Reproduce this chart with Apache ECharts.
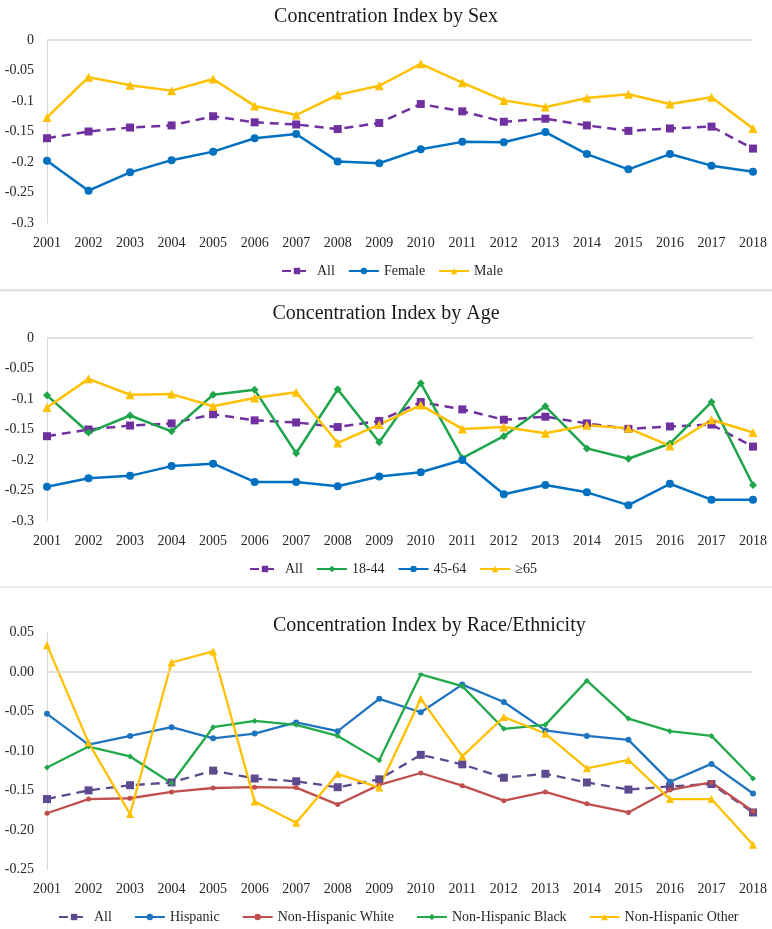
<!DOCTYPE html>
<html>
<head>
<meta charset="utf-8">
<script src="https://cdn.jsdelivr.net/npm/echarts@6/dist/echarts.min.js"></script>
<style>
  html, body { margin: 0; padding: 0; background: #ffffff; }
  #chart { width: 772px; height: 929px; }
</style>
</head>
<body>
<div id="chart"></div>
<script>
// ---------------- data ----------------
const years = ['2001','2002','2003','2004','2005','2006','2007','2008','2009','2010','2011','2012','2013','2014','2015','2016','2017','2018'];

const allValues    = [-0.161,-0.150,-0.1435,-0.140,-0.125,-0.135,-0.1385,-0.146,-0.136,-0.105,-0.117,-0.134,-0.129,-0.140,-0.149,-0.145,-0.142,-0.178];

const femaleValues = [-0.198,-0.247,-0.217,-0.197,-0.183,-0.161,-0.154,-0.199,-0.202,-0.179,-0.167,-0.1675,-0.151,-0.187,-0.212,-0.187,-0.206,-0.216];
const maleValues   = [-0.127,-0.061,-0.074,-0.083,-0.064,-0.108,-0.123,-0.090,-0.075,-0.039,-0.070,-0.099,-0.110,-0.095,-0.089,-0.105,-0.094,-0.145];

const age1844Values = [-0.094,-0.155,-0.127,-0.153,-0.093,-0.085,-0.189,-0.084,-0.171,-0.074,-0.197,-0.161,-0.112,-0.181,-0.198,-0.173,-0.105,-0.241];
const age4564Values = [-0.244,-0.230,-0.226,-0.210,-0.206,-0.236,-0.236,-0.243,-0.227,-0.220,-0.200,-0.256,-0.241,-0.253,-0.274,-0.239,-0.265,-0.265];
const age65Values   = [-0.114,-0.067,-0.093,-0.092,-0.112,-0.0985,-0.089,-0.172,-0.142,-0.110,-0.149,-0.146,-0.156,-0.143,-0.148,-0.177,-0.134,-0.155];

const hispanicValues = [-0.053,-0.092,-0.081,-0.070,-0.084,-0.078,-0.064,-0.075,-0.034,-0.051,-0.016,-0.038,-0.074,-0.081,-0.086,-0.139,-0.1165,-0.154];
const nhWhiteValues  = [-0.179,-0.161,-0.160,-0.152,-0.147,-0.146,-0.1465,-0.168,-0.143,-0.128,-0.144,-0.163,-0.152,-0.167,-0.178,-0.1495,-0.140,-0.1765];
const nhBlackValues  = [-0.121,-0.0945,-0.107,-0.141,-0.070,-0.062,-0.067,-0.081,-0.112,-0.003,-0.018,-0.072,-0.067,-0.011,-0.059,-0.075,-0.081,-0.135];
const nhOtherValues  = [0.034,-0.0895,-0.180,0.012,0.026,-0.164,-0.191,-0.129,-0.1465,-0.034,-0.107,-0.057,-0.078,-0.122,-0.1115,-0.161,-0.161,-0.219];

const titles = ['Concentration Index by Sex', 'Concentration Index by Age', 'Concentration Index by Race/Ethnicity'];
const sexNames  = ['All', 'Female', 'Male'];
const ageNames  = ['All', '18-44', '45-64', '\u226565'];
const raceNames = ['All', 'Hispanic', 'Non-Hispanic White', 'Non-Hispanic Black', 'Non-Hispanic Other'];

// ---------------- styles ----------------
const FONT = 'Liberation Serif';
const TXT = '#262626';
const PURPLE = '#7030A0';
const PURPLE3 = '#5E4A8E';
const BLUE = '#0070C0';
const BLUE3 = '#1F74C0';
const YELLOW = '#FFC000';
const GREEN = '#1EA54B';
const GREEN3 = '#22A94A';
const RED = '#C0504D';
const AXISGRAY = '#d9d9d9';

const chart = echarts.init(document.getElementById('chart'), null, { renderer: 'canvas' });

const grids = [
  { left: 47, right: 19, top: 40, height: 183 },
  { left: 47, right: 19, top: 338, height: 183 },
  { left: 47, right: 19, top: 632.5, height: 236.8 }
];

function xAxisFor(i) {
  return {
    type: 'category', gridIndex: i, data: years, boundaryGap: false,
    axisLine: { show: false }, axisTick: { show: false },
    axisLabel: { fontFamily: FONT, fontSize: 14, color: TXT, margin: 13, interval: 0 }
  };
}
function yAxisFor(i, min, max, fmt) {
  return {
    type: 'value', gridIndex: i, min: min, max: max, interval: 0.05,
    axisLine: { show: true, lineStyle: { color: AXISGRAY, width: 1 } },
    axisTick: { show: false },
    splitLine: { show: false },
    axisLabel: { fontFamily: FONT, fontSize: 14, color: TXT, margin: 13, formatter: fmt }
  };
}

function line(name, data, idx, color, symbol, size, width, dashed, withZero) {
  const s = {
    name: name, type: 'line', xAxisIndex: idx, yAxisIndex: idx, data: data,
    symbol: symbol, symbolSize: size, showSymbol: true,
    itemStyle: { color: color },
    lineStyle: { color: color, width: width, type: dashed ? [9, 6] : 'solid' },
    emphasis: { disabled: true },
    animation: false, z: 3
  };
  if (withZero) {
    s.markLine = {
      silent: true, symbol: ['none', 'none'], label: { show: false },
      lineStyle: { color: AXISGRAY, width: 1.5, type: 'solid' },
      data: [{ yAxis: 0 }], animation: false
    };
  }
  return s;
}

const series = [
  // panel 1
  line('All', allValues, 0, PURPLE, 'rect', 8, 2.5, true, true),
  line('Female', femaleValues, 0, BLUE, 'circle', 8, 2.5, false, false),
  line('Male', maleValues, 0, YELLOW, 'triangle', 9, 2.5, false, false),
  // panel 2
  line('All', allValues, 1, PURPLE, 'rect', 8, 2.5, true, true),
  line('18-44', age1844Values, 1, GREEN, 'diamond', 8, 2.5, false, false),
  line('45-64', age4564Values, 1, BLUE, 'circle', 8, 2.5, false, false),
  line('\u226565', age65Values, 1, YELLOW, 'triangle', 9, 2.5, false, false),
  // panel 3
  line('All', allValues, 2, PURPLE3, 'rect', 8, 2.3, true, true),
  line('Hispanic', hispanicValues, 2, BLUE3, 'circle', 6, 2.3, false, false),
  line('Non-Hispanic White', nhWhiteValues, 2, RED, 'circle', 5, 2.3, false, false),
  line('Non-Hispanic Black', nhBlackValues, 2, GREEN3, 'diamond', 6, 2.3, false, false),
  line('Non-Hispanic Other', nhOtherValues, 2, YELLOW, 'triangle', 8, 2.3, false, false)
];

function legendFor(names, top, left, gap, allColor) {
  return {
    top: top, left: left, itemWidth: 30, itemHeight: 8, itemGap: gap,
    padding: 0,
    textStyle: { fontFamily: FONT, fontSize: 14, color: TXT },
    data: names.map(n => n === 'All'
      ? { name: n, itemStyle: { color: allColor }, lineStyle: { color: allColor } }
      : n),
    selectedMode: false
  };
}

const option = {
  backgroundColor: '#ffffff',
  animation: false,
  title: [
    { text: titles[0], left: 'center', top: 7, padding: 0, textStyle: { fontFamily: FONT, fontSize: 20, fontWeight: 'normal', color: '#1a1a1a' } },
    { text: titles[1], left: 'center', top: 304, padding: 0, textStyle: { fontFamily: FONT, fontSize: 20, fontWeight: 'normal', color: '#1a1a1a' } },
    { text: titles[2], left: 273, top: 616, padding: 0, textStyle: { fontFamily: FONT, fontSize: 20, fontWeight: 'normal', color: '#1a1a1a' } }
  ],
  legend: [
    legendFor(sexNames, 264, 281, 13, PURPLE),
    legendFor(ageNames, 562, 249, 13, PURPLE),
    legendFor(raceNames, 910, 58, 22, PURPLE3)
  ],
  grid: grids,
  xAxis: [xAxisFor(0), xAxisFor(1), xAxisFor(2)],
  yAxis: [
    yAxisFor(0, -0.3, 0),
    yAxisFor(1, -0.3, 0),
    yAxisFor(2, -0.25, 0.05, v => (Math.abs(v) < 1e-9 ? 0 : v).toFixed(2))
  ],
  graphic: [
    { type: 'rect', left: 0, top: 289, shape: { width: 772, height: 2.5 }, style: { fill: '#e3e3e3' }, silent: true },
    { type: 'rect', left: 0, top: 586, shape: { width: 772, height: 2 }, style: { fill: '#ececec' }, silent: true }
  ],
  series: series
};

chart.setOption(option);
</script>
</body>
</html>
